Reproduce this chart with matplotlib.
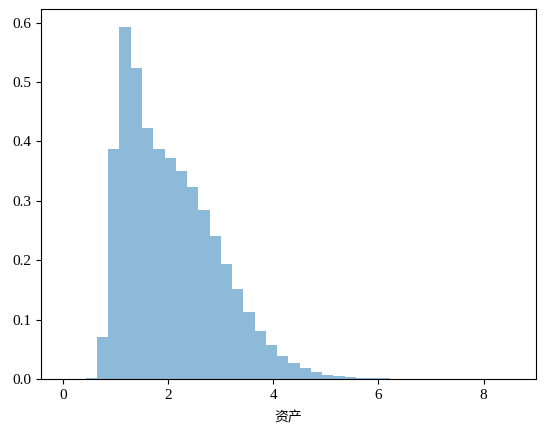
import numpy as np
import matplotlib
matplotlib.use("Agg")
import matplotlib.pyplot as plt

plt.rcParams['font.family'] = ['Liberation Serif', 'Noto Sans CJK SC', 'DejaVu Sans']
plt.rcParams['font.size'] = 11

# 40 equal bins spanning 0 .. 8.57, density
bin_lo = 0.0
bin_hi = 8.57
n_bins = 40
density = [0.0, 0.0, 0.002, 0.0707, 0.387, 0.5926, 0.5236, 0.4226, 0.387, 0.372,
           0.350, 0.323, 0.2845, 0.2407, 0.1936, 0.1515, 0.1128, 0.0808, 0.0572, 0.0387,
           0.027, 0.019, 0.0118, 0.0067, 0.005, 0.0034, 0.0022, 0.0016, 0.0011, 0.0006,
           0.0004, 0.0003, 0.0002, 0.0001, 0.0001, 0.0001, 0.0, 0.0, 0.0, 0.0001]
xlabel = "资产"

edges = np.linspace(bin_lo, bin_hi, n_bins + 1)
centers = (edges[:-1] + edges[1:]) / 2

fig = plt.figure(figsize=(5.46, 4.36), dpi=100)
ax = fig.add_axes([40.7 / 546, 57 / 436, 495.3 / 546, 369.5 / 436])
ax.hist(centers, bins=edges, weights=density, alpha=0.5)
ax.set_xlabel(xlabel, fontsize=10, labelpad=7)

fig.savefig("out.png", dpi=100)
